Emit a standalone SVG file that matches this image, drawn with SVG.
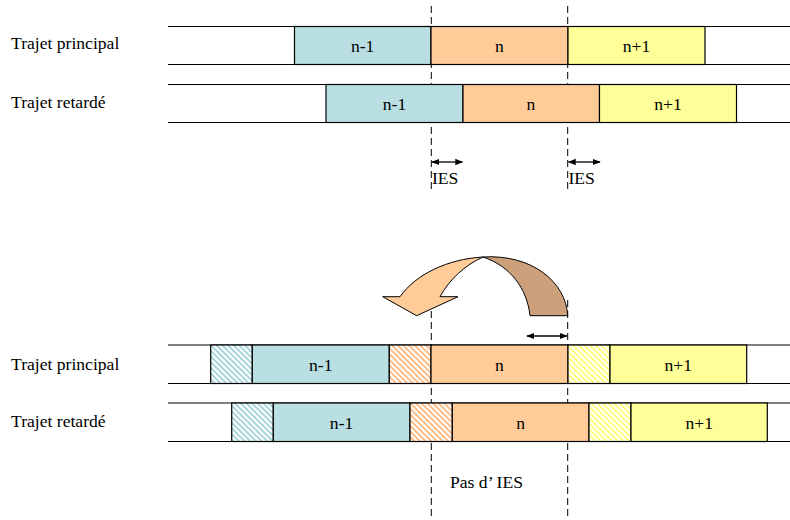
<svg xmlns="http://www.w3.org/2000/svg" width="790" height="520" viewBox="0 0 790 520">
<style>
.t{font-family:'Liberation Serif',serif;font-size:17.6px;fill:#000}
.c{text-anchor:middle}
.box{stroke:#000;stroke-width:1.2}
.cy{fill:#B9DFE2}.pe{fill:#FFCC99}.ye{fill:#FFFF99}
.hl{stroke:#000;stroke-width:1.2;fill:none}
.dash{stroke:#000;stroke-width:1;stroke-dasharray:7,4;fill:none}
.dbl{stroke:#000;stroke-width:1.3;fill:none;marker-start:url(#ah);marker-end:url(#ah)}
</style>
<defs>
<marker id="ah" viewBox="0 0 10 10" refX="9" refY="5" markerWidth="8" markerHeight="8" markerUnits="userSpaceOnUse" orient="auto-start-reverse">
<path d="M0,1 L10,5 L0,9 Z" fill="#000"/>
</marker>
<pattern id="hc" width="4" height="4" patternUnits="userSpaceOnUse" patternTransform="rotate(-45)">
<rect width="4" height="4" fill="#fff"/><rect width="2" height="4" fill="#A9D6DB"/>
</pattern>
<pattern id="ho" width="4" height="4" patternUnits="userSpaceOnUse" patternTransform="rotate(-45)">
<rect width="4" height="4" fill="#fff"/><rect width="2" height="4" fill="#FFBE88"/>
</pattern>
<pattern id="hy" width="4" height="4" patternUnits="userSpaceOnUse" patternTransform="rotate(-45)">
<rect width="4" height="4" fill="#fff"/><rect width="2" height="4" fill="#FFFF80"/>
</pattern>
</defs>

<g id="connectors">
<line class="dash" x1="431.3" y1="6" x2="431.3" y2="190"/>
<line class="dash" x1="567.7" y1="6" x2="567.7" y2="190"/>
<line class="dash" x1="431.3" y1="300" x2="431.3" y2="520"/>
<line class="dash" x1="567.7" y1="300" x2="567.7" y2="520"/>
<line class="dbl" x1="432" y1="162" x2="462.5" y2="162"/>
<line class="dbl" x1="568.5" y1="162" x2="600" y2="162"/>
<line class="dbl" x1="527" y1="336" x2="567" y2="336"/>
</g>

<g id="labels">
<text class="t" font-family="Liberation Serif, serif" x="11" y="49">Trajet principal</text>
<text class="t" font-family="Liberation Serif, serif" x="11" y="108">Trajet retardé</text>
<text class="t" font-family="Liberation Serif, serif" x="11" y="370">Trajet principal</text>
<text class="t" font-family="Liberation Serif, serif" x="11" y="427">Trajet retardé</text>
</g>

<g id="row1">
<line class="hl" x1="168" y1="26.5" x2="790" y2="26.5"/>
<line class="hl" x1="168" y1="64.5" x2="790" y2="64.5"/>
<g id="r1-nm1"><rect class="box cy" x="294.5" y="26.5" width="136.5" height="38"/><text class="t c" font-family="Liberation Serif, serif" x="362.7" y="51.5">n-1</text></g>
<g id="r1-n"><rect class="box pe" x="431" y="26.5" width="137" height="38"/><text class="t c" font-family="Liberation Serif, serif" x="499.5" y="51.5">n</text></g>
<g id="r1-np1"><rect class="box ye" x="568" y="26.5" width="137" height="38"/><text class="t c" font-family="Liberation Serif, serif" x="636.5" y="51.5">n+1</text></g>
</g>

<g id="row2">
<line class="hl" x1="168" y1="84.5" x2="790" y2="84.5"/>
<line class="hl" x1="168" y1="122.5" x2="790" y2="122.5"/>
<g id="r2-nm1"><rect class="box cy" x="326" y="84.5" width="137" height="38"/><text class="t c" font-family="Liberation Serif, serif" x="394.5" y="110">n-1</text></g>
<g id="r2-n"><rect class="box pe" x="463" y="84.5" width="136.5" height="38"/><text class="t c" font-family="Liberation Serif, serif" x="531" y="110">n</text></g>
<g id="r2-np1"><rect class="box ye" x="599.5" y="84.5" width="137" height="38"/><text class="t c" font-family="Liberation Serif, serif" x="668" y="110">n+1</text></g>
</g>

<g id="row3">
<line class="hl" x1="168" y1="345" x2="790" y2="345"/>
<line class="hl" x1="168" y1="383.5" x2="790" y2="383.5"/>
<g id="r3-h1"><rect class="box" fill="url(#hc)" x="210.7" y="345" width="41.6" height="38.5"/></g>
<g id="r3-nm1"><rect class="box cy" x="252.3" y="345" width="137" height="38.5"/><text class="t c" font-family="Liberation Serif, serif" x="320.8" y="371">n-1</text></g>
<g id="r3-h2"><rect class="box" fill="url(#ho)" x="389.3" y="345" width="41.7" height="38.5"/></g>
<g id="r3-n"><rect class="box pe" x="431" y="345" width="137" height="38.5"/><text class="t c" font-family="Liberation Serif, serif" x="499.5" y="371">n</text></g>
<g id="r3-h3"><rect class="box" fill="url(#hy)" x="568" y="345" width="42" height="38.5"/></g>
<g id="r3-np1"><rect class="box ye" x="610" y="345" width="136.7" height="38.5"/><text class="t c" font-family="Liberation Serif, serif" x="678.3" y="371">n+1</text></g>
</g>

<g id="row4">
<line class="hl" x1="168" y1="403" x2="790" y2="403"/>
<line class="hl" x1="168" y1="441.5" x2="790" y2="441.5"/>
<g id="r4-h1"><rect class="box" fill="url(#hc)" x="231.7" y="403" width="41.6" height="38.5"/></g>
<g id="r4-nm1"><rect class="box cy" x="273.3" y="403" width="136.7" height="38.5"/><text class="t c" font-family="Liberation Serif, serif" x="341.6" y="429">n-1</text></g>
<g id="r4-h2"><rect class="box" fill="url(#ho)" x="410" y="403" width="42.3" height="38.5"/></g>
<g id="r4-n"><rect class="box pe" x="452.3" y="403" width="136.7" height="38.5"/><text class="t c" font-family="Liberation Serif, serif" x="520.6" y="429">n</text></g>
<g id="r4-h3"><rect class="box" fill="url(#hy)" x="589" y="403" width="42" height="38.5"/></g>
<g id="r4-np1"><rect class="box ye" x="631" y="403" width="136.3" height="38.5"/><text class="t c" font-family="Liberation Serif, serif" x="699.2" y="429">n+1</text></g>
</g>

<g id="curved-arrow" stroke="#000" stroke-width="1" stroke-linejoin="round">
<path fill="#CCA07A" d="M483,257 C532,254 566,282 567.7,315.7 L530,315.7 C527,288 510,266 483,257 Z"/>
<path fill="#FFCC99" d="M483,257 C448,259 416,274 400,296.7 L382.7,296.7 L416.7,315.7 L458,296.7 L440,296.7 C449,280 465,265 483,257 Z"/>
</g>

<g id="ies-labels">
<text class="t" font-family="Liberation Serif, serif" x="432" y="184">IES</text>
<text class="t" font-family="Liberation Serif, serif" x="568.5" y="184">IES</text>
<text class="t" font-family="Liberation Serif, serif" x="450" y="488">Pas d’ IES</text>
</g>
</svg>
